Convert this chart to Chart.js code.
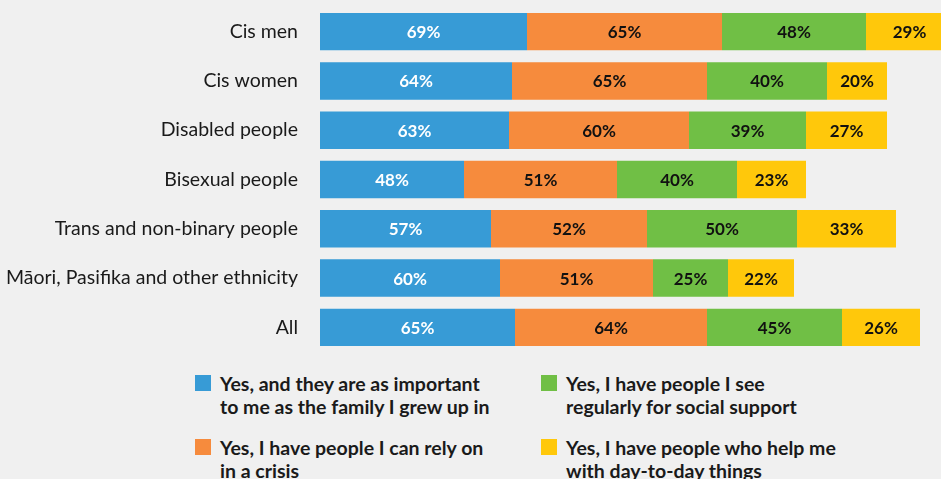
<!DOCTYPE html>
<html>
<head>
<meta charset="utf-8">
<script src="https://cdn.jsdelivr.net/npm/chart.js@4"></script>
<style>
  html, body { margin: 0; padding: 0; background: #f0f0f0; }
  #wrap { position: relative; width: 941px; height: 479px; overflow: hidden; background: #f0f0f0; }
  #c { position: absolute; left: 0; top: 0; }
  .leg { position: absolute; font-family: Lato, sans-serif; font-weight: 700; font-size: 19.5px;
         line-height: 23px; color: #1a1a1a; white-space: nowrap; }
  .sw { position: absolute; width: 16px; height: 16px; }
</style>
</head>
<body>
<div id="wrap">
  <canvas id="c" width="941" height="360"></canvas>
  <div id="legend"></div>
</div>
<script>
// Groups shown on the vertical axis
const categories = [
  'Cis men',
  'Cis women',
  'Disabled people',
  'Bisexual people',
  'Trans and non-binary people',
  'Māori, Pasifika and other ethnicity',
  'All'
];

// Share of each group answering yes (%)
const importantAsFamily = [69, 64, 63, 48, 57, 60, 65];
const relyOnInCrisis     = [65, 65, 60, 51, 52, 51, 64];
const socialSupport      = [48, 40, 39, 40, 50, 25, 45];
const dayToDayHelp       = [29, 20, 27, 23, 33, 22, 26];

const seriesNames = [
  ['Yes, and they are as important', 'to me as the family I grew up in'],
  ['Yes, I have people I can rely on', 'in a crisis'],
  ['Yes, I have people I see', 'regularly for social support'],
  ['Yes, I have people who help me', 'with day-to-day things']
];

const colors = ['#379bd6', '#f68b3d', '#70bf45', '#ffc80b'];
const labelColors = ['#ffffff', '#111111', '#111111', '#111111'];
const seriesValues = [importantAsFamily, relyOnInCrisis, socialSupport, dayToDayHelp];

// Percentage labels centred on each bar segment
const segmentLabels = {
  id: 'segmentLabels',
  afterDatasetsDraw(chart) {
    const ctx = chart.ctx;
    ctx.save();
    ctx.font = 'bold 17px Lato, sans-serif';
    ctx.textAlign = 'center';
    ctx.textBaseline = 'middle';
    chart.data.datasets.forEach((ds, i) => {
      const meta = chart.getDatasetMeta(i);
      meta.data.forEach((bar, j) => {
        const cx = (bar.x + bar.base) / 2;
        ctx.fillStyle = labelColors[i];
        ctx.fillText(ds.data[j] + '%', cx, bar.y + 1);
      });
    });
    ctx.restore();
  }
};

new Chart(document.getElementById('c'), {
  type: 'bar',
  data: {
    labels: categories,
    datasets: seriesValues.map((vals, i) => ({
      label: seriesNames[i].join(' '),
      data: vals,
      backgroundColor: colors[i],
      borderWidth: 0,
      barPercentage: 0.76,
      categoryPercentage: 1.0
    }))
  },
  options: {
    indexAxis: 'y',
    responsive: false,
    animation: false,
    layout: { padding: { top: 7, bottom: 8, left: 0, right: 0 } },
    plugins: { legend: { display: false }, tooltip: { enabled: false } },
    scales: {
      x: {
        stacked: true,
        min: 0,
        max: 207,
        display: false
      },
      y: {
        stacked: true,
        grid: { display: false, drawTicks: false },
        border: { display: false },
        ticks: {
          padding: 22,
          color: '#1a1a1a',
          font: { family: 'Lato, sans-serif', size: 19.5 }
        },
        afterFit(scale) {
          scale.width = 320;
          // labels sit beside the bars, so no extra vertical room is needed
          scale.paddingTop = 0;
          scale.paddingBottom = 0;
        }
      }
    }
  },
  plugins: [segmentLabels]
});

// Two-column legend below the bars
const legendPos = [
  { sx: 195, sy: 375, tx: 220, ty: 372 },
  { sx: 195, sy: 439, tx: 220, ty: 436 },
  { sx: 541, sy: 375, tx: 566, ty: 372 },
  { sx: 541, sy: 439, tx: 566, ty: 436 }
];
const legendEl = document.getElementById('legend');
seriesNames.forEach((lines, i) => {
  const p = legendPos[i];
  const sw = document.createElement('div');
  sw.className = 'sw';
  sw.style.left = p.sx + 'px';
  sw.style.top = p.sy + 'px';
  sw.style.background = colors[i];
  legendEl.appendChild(sw);
  const t = document.createElement('div');
  t.className = 'leg';
  t.style.left = p.tx + 'px';
  t.style.top = p.ty + 'px';
  t.innerHTML = lines.join('<br>');
  legendEl.appendChild(t);
});
</script>
</body>
</html>
